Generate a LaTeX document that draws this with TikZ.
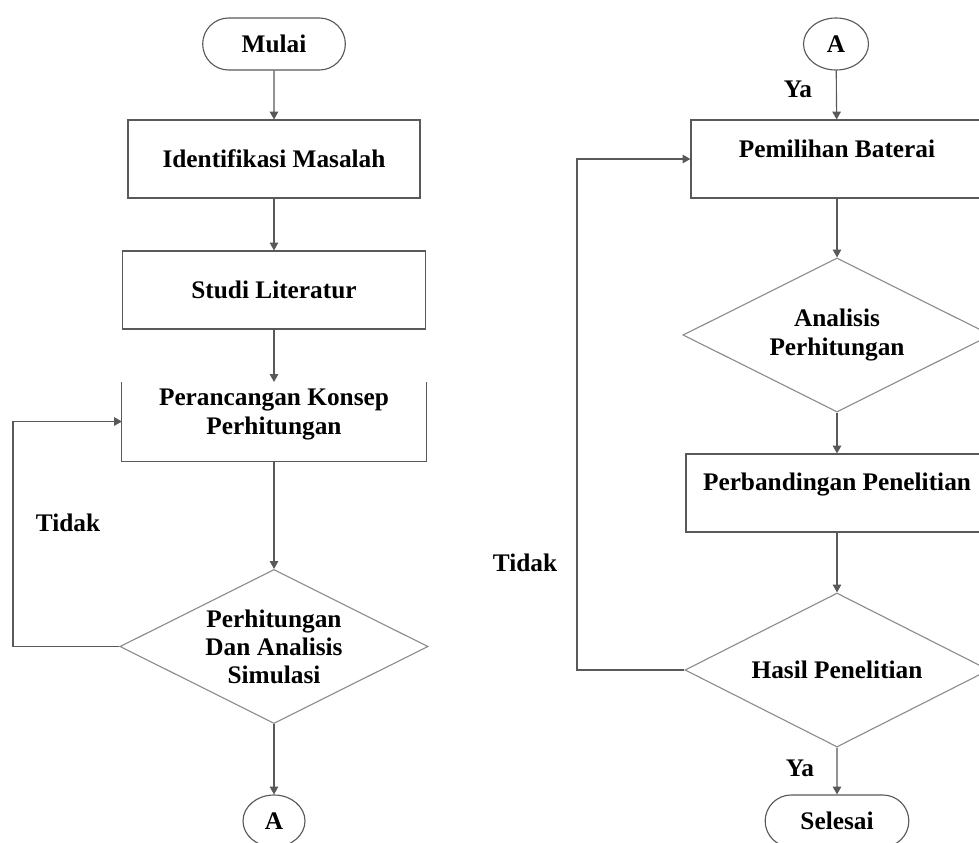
\documentclass[tikz,border=0pt]{standalone}
\usepackage{fontspec}
\setmainfont{Liberation Serif}
\usetikzlibrary{shapes.geometric,shapes.misc,arrows.meta}

\tikzset{
  garis/.style={draw=black!65, line width=0.8pt},
  panah/.style={garis, -{Triangle[width=6pt,length=5.5pt]}},
  terminal/.style={rounded rectangle, garis, minimum width=3.8cm, minimum height=1.3cm},
  konektor/.style={ellipse, garis, minimum width=1.6cm, minimum height=1.3cm, inner sep=0pt},
  proses/.style={rectangle, garis, minimum width=7.3cm, minimum height=1.95cm, align=center},
  keputusan/.style={diamond, draw=black!45, line width=0.8pt, minimum width=7.7cm, minimum height=3.85cm, inner sep=0pt},
  isi/.style={align=center}
}

\begin{document}
\begin{tikzpicture}[x=0.025cm, y=-0.025cm, font=\bfseries\fontsize{18}{20}\selectfont]
    \clip (0,0) rectangle (979,842);
    \fill[white] (0,0) rectangle (979,842);

    % kolom kiri
    \node[terminal] (mulai) at (274,44) {Mulai};
    \node[proses] (p1) at (274,159) {Identifikasi Masalah};
    \node[proses, minimum width=7.575cm] (p2) at (274,290) {Studi Literatur};
    \node[proses, minimum width=7.575cm, draw=none] (p3) at (274,421.5) {\raisebox{5pt}[\height][\depth]{Perancangan Konsep}\\\raisebox{5pt}[\height][\depth]{Perhitungan}};
    \draw[garis] (p3.north west) -- (p3.south west) -- (p3.south east) -- (p3.north east);
    \node[keputusan] (d1) at (274,646.5) {};
    \node[isi] (t1) at (d1) {Perhitungan\\Dan Analisis\\Simulasi};
    \node[konektor, minimum width=1.55cm] (a1) at (274,821) {A};

    \draw[panah] (mulai) -- (p1);
    \draw[panah] (p1) -- (p2);
    \draw[panah] (p2) -- (p3);
    \draw[panah] (p3) -- (d1);
    \draw[panah] (d1) -- (a1);

    \coordinate (belok1) at (13,646.5);
    \draw[panah] (d1.west) -- (belok1) |- (p3.west);
    \node (tidak1) at (68,523) {Tidak};

    % kolom kanan
    \node[konektor, minimum width=1.625cm] (a2) at (836,44) {A};
    \node[proses] (p4) at (837,159) {\raisebox{7pt}[\height][\depth]{Pemilihan Baterai}};
    \node[keputusan] (d2) at (837,335) {};
    \node[isi] (t2) at (d2) {Analisis\\Perhitungan};
    \node[proses, minimum width=7.55cm] (p5) at (837,493) {\raisebox{6pt}[\height][\depth]{Perbandingan Penelitian}};
    \node[keputusan, minimum width=7.6cm] (d3) at (837,670) {};
    \node[isi] (t3) at (d3) {Hasil Penelitian};
    \node[terminal, minimum width=3.825cm] (selesai) at (837,821) {Selesai};

    \draw[panah] (a2) -- (p4);
    \draw[panah] (p4) -- (d2);
    \draw[panah] (d2) -- (p5);
    \draw[panah] (p5) -- (d3);
    \draw[panah] (d3) -- (selesai);

    \node (ya1) at (798,89) {Ya};
    \node (ya2) at (800,768) {Ya};

    \coordinate (belok2) at (577,670);
    \draw[panah] (d3.west) -- (belok2) |- (p4.west);
    \node (tidak2) at (525,563) {Tidak};
\end{tikzpicture}
\end{document}
